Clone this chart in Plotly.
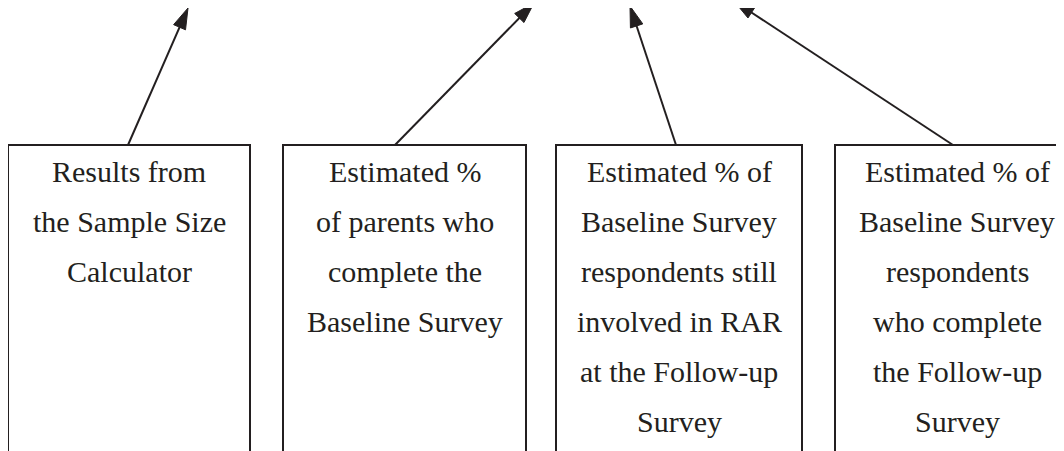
import numpy as np
import plotly.graph_objects as go

# ---- content ----
box_labels = [
    ["Results from", "the Sample Size", "Calculator"],
    ["Estimated %", "of parents who", "complete the", "Baseline Survey"],
    ["Estimated % of", "Baseline Survey", "respondents still", "involved in RAR",
     "at the Follow-up", "Survey"],
    ["Estimated % of", "Baseline Survey", "respondents", "who complete",
     "the Follow-up", "Survey"],
]

# ---- geometry (pixel-like data units) ----
box_left = [8, 283, 556, 835]
box_right = [250, 526, 802, 1079]
box_top = 145
box_bottom = 470
arrow_tail_x = [128, 395, 676, 953]
arrow_tip_x = [188, 534, 630, 734]
arrow_tip_y = [8, 3, 6, 1]
first_line_y = 171.5
line_step = 49.9

INK = "#231f20"
FONT = "Liberation Serif"
W, H = 1064, 451
PAGE_PAD = 8  # default body margin of the html page

fig = go.Figure()

# boxes (open at the bottom, they run off the page)
for l, r in zip(box_left, box_right):
    fig.add_trace(go.Scatter(
        x=[l, l, r, r], y=[box_bottom, box_top, box_top, box_bottom],
        mode="lines", line=dict(color=INK, width=2), hoverinfo="skip",
        showlegend=False))

# box texts
for l, r, lines in zip(box_left, box_right, box_labels):
    cx = (l + r) / 2
    for i, line in enumerate(lines):
        fig.add_annotation(
            x=cx, y=first_line_y + i * line_step, xref="x", yref="y",
            text=line, showarrow=False, xanchor="center", yanchor="middle",
            font=dict(family=FONT, size=30, color=INK))

# arrows
L, HW = 21, 6.5
for tx, hx, hy in zip(arrow_tail_x, arrow_tip_x, arrow_tip_y):
    p0 = np.array([tx, box_top], float)
    p1 = np.array([hx, hy], float)
    u = (p1 - p0) / np.linalg.norm(p1 - p0)
    v = np.array([-u[1], u[0]])
    base = p1 - L * u
    end = p1 - 0.8 * L * u
    fig.add_trace(go.Scatter(
        x=[p0[0], end[0]], y=[p0[1], end[1]], mode="lines",
        line=dict(color=INK, width=2), hoverinfo="skip", showlegend=False))
    a = base + HW * v
    b = base - HW * v
    fig.add_trace(go.Scatter(
        x=[p1[0], a[0], b[0], p1[0]], y=[p1[1], a[1], b[1], p1[1]],
        mode="lines", fill="toself", fillcolor=INK,
        line=dict(color=INK, width=1), hoverinfo="skip", showlegend=False))

fig.update_layout(
    width=W, height=H,
    margin=dict(l=0, r=0, t=0, b=0),
    paper_bgcolor="white", plot_bgcolor="white",
    xaxis=dict(range=[PAGE_PAD, W + PAGE_PAD], visible=False, fixedrange=True),
    yaxis=dict(range=[H + PAGE_PAD, PAGE_PAD], visible=False, fixedrange=True),
)

fig.write_html("out.html")
